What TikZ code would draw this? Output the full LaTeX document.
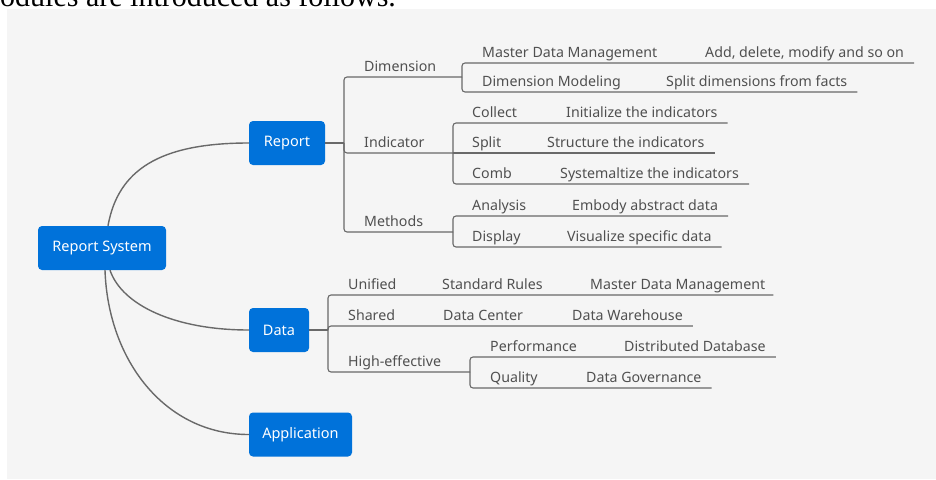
\documentclass[tikz,border=0pt]{standalone}
\usepackage{fontspec}
\setmainfont{Noto Sans}
\newfontfamily\paperfont{Liberation Serif}
\usetikzlibrary{calc,positioning}
\definecolor{topicblue}{RGB}{0,114,218}
\definecolor{linegray}{RGB}{105,105,105}
\definecolor{labelgray}{RGB}{80,80,80}
\definecolor{sheetgray}{RGB}{245,245,245}
\tikzset{
  topic/.style={fill=topicblue, text=white, rounded corners=4pt, minimum height=44pt, inner sep=0pt, font=\fontsize{14.5}{17}\selectfont},
  leaf/.style={anchor=south west, inner xsep=0pt, inner ysep=2pt, text height=10pt, text depth=3pt, text=labelgray, font=\fontsize{14.2}{16}\selectfont},
  branch/.style={draw=linegray, line width=1.1pt, rounded corners=3pt},
  stem/.style={draw=linegray, line width=1.4pt},
}
\begin{document}
\begin{tikzpicture}[x=1pt,y=-1pt]
  \useasboundingbox (0,0) rectangle (936,479);
  \fill[sheetgray] (7,9) rectangle (936,479);
  \node[anchor=base west, inner sep=0pt, font=\paperfont\fontsize{30}{32}\selectfont] (Intro) at (0,6) {odules are introduced as follows.};
  \node[topic, minimum width=128pt] (Sys) at (102,248) {Report System};
  \node[topic, minimum width=76pt] (Rep) at (287,143) {Report};
  \node[topic, minimum width=60pt] (Dat) at (279,330) {Data};
  \node[topic, minimum width=103pt] (App) at (300.5,434.5) {Application};
  \node[leaf] (Dim) at (364,77) {Dimension};
  \node[leaf] (Ind) at (364,153) {Indicator};
  \node[leaf] (Met) at (364,232) {Methods};
  \node[leaf] (MdM) at (482,63) {Master Data Management};
  \node[leaf] (Add) at (705,63) {Add, delete, modify and so on};
  \node[leaf] (DMo) at (482,92) {Dimension Modeling};
  \node[leaf] (SpD) at (666,92) {Split dimensions from facts};
  \node[leaf] (Col) at (472,123) {Collect};
  \node[leaf] (IniI) at (566,123) {Initialize the indicators};
  \node[leaf] (Spl) at (472,153) {Split};
  \node[leaf] (StrI) at (547,153) {Structure the indicators};
  \node[leaf] (Cmb) at (472,184) {Comb};
  \node[leaf] (SysI) at (560,184) {Systemaltize the indicators};
  \node[leaf] (Ana) at (472,216) {Analysis};
  \node[leaf] (Emb) at (572,216) {Embody abstract data};
  \node[leaf] (Dsp) at (472,247) {Display};
  \node[leaf] (Vis) at (567,247) {Visualize specific data};
  \node[leaf] (Uni) at (348,295) {Unified};
  \node[leaf] (StR) at (442,295) {Standard Rules};
  \node[leaf] (MdMb) at (590,295) {Master Data Management};
  \node[leaf] (Sha) at (348,326) {Shared};
  \node[leaf] (DCe) at (443,326) {Data Center};
  \node[leaf] (DWh) at (572,326) {Data Warehouse};
  \node[leaf] (Hig) at (348,372) {High-effective};
  \node[leaf] (Per) at (490,357) {Performance};
  \node[leaf] (DDb) at (624,357) {Distributed Database};
  \node[leaf] (Qua) at (490,388) {Quality};
  \node[leaf] (DGo) at (586,388) {Data Governance};
  \coordinate (RepJ) at (344,143);
  \coordinate (DimJ) at (462,77);
  \coordinate (IndJ) at (453,153);
  \coordinate (MetJ) at (453,232);
  \coordinate (DatJ) at (328,330);
  \coordinate (HigJ) at (470,372);
  \draw[stem] ([xshift=6pt]Sys.north) .. controls +(10,-56) and +(-89,0) .. (Rep.west);
  \draw[stem] ([xshift=8pt]Sys.south) .. controls +(12,35) and +(-74,0) .. (Dat.west);
  \draw[stem] ([xshift=3pt]Sys.south) .. controls +(3,90) and +(-84,0) .. (App.west);
  \draw[branch] (Rep.east) -- (RepJ);
  \draw[branch] (RepJ) |- (Dim.south west) -- (DimJ);
  \draw[branch] (RepJ) |- (Ind.south west) -- (IndJ);
  \draw[branch] (RepJ) |- (Met.south west) -- (MetJ);
  \draw[branch] (DimJ) |- (MdM.south west) -- ([xshift=10pt]Add.south east);
  \draw[branch] (DimJ) |- (DMo.south west) -- ([xshift=10pt]SpD.south east);
  \draw[branch] (IndJ) |- (Col.south west) -- ([xshift=10pt]IniI.south east);
  \draw[branch] (IndJ) -- (Spl.south west) -- ([xshift=10pt]StrI.south east);
  \draw[branch] (IndJ) |- (Cmb.south west) -- ([xshift=10pt]SysI.south east);
  \draw[branch] (MetJ) |- (Ana.south west) -- ([xshift=10pt]Emb.south east);
  \draw[branch] (MetJ) |- (Dsp.south west) -- ([xshift=10pt]Vis.south east);
  \draw[branch] (Dat.east) -- (DatJ);
  \draw[branch] (DatJ) |- (Uni.south west) -- ([xshift=8pt]MdMb.south east);
  \draw[branch] (DatJ) |- (Sha.south west) -- ([xshift=10pt]DWh.south east);
  \draw[branch] (DatJ) |- (Hig.south west) -- (HigJ);
  \draw[branch] (HigJ) |- (Per.south west) -- ([xshift=10pt]DDb.south east);
  \draw[branch] (HigJ) |- (Qua.south west) -- ([xshift=10pt]DGo.south east);
\end{tikzpicture}
\end{document}
